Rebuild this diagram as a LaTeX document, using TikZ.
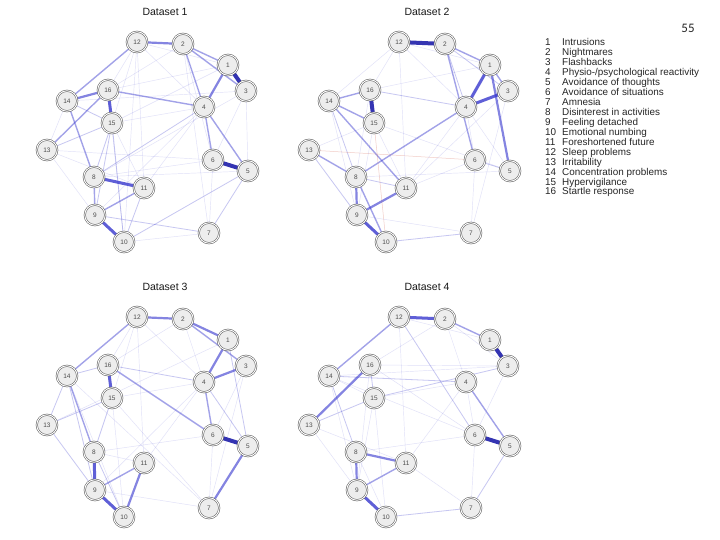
\documentclass[tikz,border=0pt]{standalone}
\usepackage{fontspec}
\setmainfont{Liberation Sans}
\newfontfamily\calib{Carlito}
\pgfdeclarelayer{bg}
\pgfsetlayers{bg,main}
\definecolor{eb}{RGB}{50,50,205}
\definecolor{er}{RGB}{210,90,70}
\tikzset{
 nd/.style={circle, minimum size=20.5pt, inner sep=0pt, draw=black!62, line width=0.55pt, double=white, double distance=0.9pt, fill=black!7, font=\fontsize{6.5}{7}\selectfont, text=black!70},
 ttl/.style={font=\fontsize{10.5}{12}\selectfont, text=black!90},
 lgn/.style={font=\fontsize{9.9}{10}\selectfont, text=black!85, inner sep=0pt},
 w1/.style={draw=eb, line width=0.45pt, opacity=0.15},
 w2/.style={draw=eb, line width=0.8pt, opacity=0.27},
 w3/.style={draw=eb, line width=1.4pt, opacity=0.45},
 w4/.style={draw=eb, line width=2.2pt, opacity=0.6},
 w5/.style={draw=eb, line width=3pt, opacity=0.78},
 w6/.style={draw=eb!85!black, line width=4pt, opacity=0.95},
 neg/.style={draw=er, line width=0.5pt, opacity=0.3},
}
\newcommand\panel[4]{%
 \begin{scope}[shift={(#2,#3)}]
 \node[ttl] (#1t) at (165,12) {#4};
 \foreach \n/\x/\y in {1/228/65, 2/183/44, 3/246/91, 4/204/107, 5/248/171, 6/213/160, 7/209/233, 8/94/177, 9/95/215, 10/124/242, 11/144/188, 12/137/42, 13/47/150, 14/67/101, 15/112/123, 16/108/90}
   \node[nd] (#1\n) at (\x,\y) {\n};
 \end{scope}}
\newcommand\edges[2]{\foreach \sa/\sb/\sw in {#2}{\edef\tmp{\noexpand\draw[\sw] (#1\sa) -- (#1\sb);}\tmp}}
\begin{document}
\begin{tikzpicture}[x=1pt,y=-1pt]
\useasboundingbox (0,0) rectangle (720,540);
\panel{a}{0}{0}{Dataset 1}
\panel{b}{262}{0}{Dataset 2}
\panel{c}{0}{275}{Dataset 3}
\panel{d}{262}{275}{Dataset 4}
\begin{pgfonlayer}{bg}
\fill[white] (0,0) rectangle (720,540);
\edges{a}{1/3/w6, 6/5/w6, 16/15/w5, 12/2/w4, 2/1/w3, 2/3/w3, 1/4/w4, 4/5/w3, 14/16/w4, 12/14/w3, 14/8/w3, 16/13/w3, 15/13/w2, 8/11/w5, 9/10/w5, 9/11/w3, 8/9/w3, 2/4/w3, 2/6/w1, 4/6/w3, 5/10/w2, 5/7/w2, 9/7/w2, 11/10/w2, 16/4/w3, 14/15/w2, 13/9/w1, 15/8/w2, 15/9/w2, 15/10/w2, 12/4/w1, 12/15/w1, 12/16/w1, 4/8/w2, 4/11/w1, 3/6/w1, 3/5/w1, 7/6/w1, 1/16/w1, 12/10/w1, 13/11/w1, 14/13/w1, 4/9/w1, 2/7/w1, 3/14/w1, 16/10/w1, 15/11/w1, 8/6/w1, 13/6/w1, 12/1/w1, 8/5/w1, 2/16/w1, 15/4/w1, 10/7/w1, 12/11/w1, 1/15/w1, 3/8/w1}
\edges{b}{12/2/w6, 16/15/w6, 1/4/w5, 4/3/w5, 1/5/w4, 2/1/w3, 1/3/w3, 2/3/w2, 14/16/w3, 14/15/w3, 14/11/w3, 14/8/w2, 8/9/w4, 9/10/w5, 9/11/w4, 8/10/w3, 8/11/w2, 13/8/w3, 13/9/w2, 4/8/w3, 2/6/w3, 6/5/w2, 10/7/w2, 16/4/w2, 12/14/w1, 12/11/w1, 13/15/w1, 2/4/w2, 4/5/w1, 4/6/w1, 3/7/w1, 12/1/w1, 6/7/w1, 15/11/w1, 16/1/w1, 15/9/w1, 8/5/w1, 9/7/w1, 11/6/w1, 12/16/w1, 14/9/w1, 3/11/w1, 11/4/w1, 16/8/w1, 12/4/w1, 15/5/w1, 13/6/neg, 15/10/neg}
\edges{c}{12/2/w4, 2/1/w4, 2/3/w3, 1/4/w4, 4/3/w4, 1/5/w2, 6/5/w6, 4/6/w3, 4/5/w2, 16/15/w5, 14/16/w2, 12/14/w3, 14/13/w2, 14/8/w3, 14/7/w1, 16/6/w3, 16/4/w2, 8/9/w5, 9/10/w5, 9/11/w3, 11/10/w4, 8/10/w2, 5/7/w4, 13/9/w2, 13/15/w2, 15/8/w2, 15/10/w1, 12/11/w1, 12/16/w1, 12/15/w1, 2/4/w1, 14/9/w2, 14/10/w1, 8/11/w1, 15/7/w1, 3/6/w1, 6/7/w1, 4/9/w1, 15/4/w1, 1/13/w1, 8/6/w1, 9/7/w1, 11/4/w1, 2/16/w1, 12/4/w1, 3/7/w1}
\edges{d}{12/2/w5, 2/1/w3, 1/3/w6, 6/5/w6, 4/5/w3, 13/16/w4, 12/14/w3, 14/4/w2, 16/15/w2, 15/3/w2, 15/4/w1, 8/11/w4, 8/9/w4, 9/11/w3, 9/10/w5, 10/7/w2, 5/7/w2, 14/8/w2, 12/6/w2, 13/9/w1, 13/15/w2, 14/15/w1, 14/3/w1, 16/3/w1, 2/4/w1, 16/9/w1, 15/9/w1, 12/11/w1, 16/6/w1, 4/11/w1, 2/3/w1, 12/1/w1, 6/7/w1, 8/10/w1, 13/11/w1, 11/7/w1, 15/10/w1, 3/6/w1, 4/6/w1, 14/6/w1, 8/6/w1, 14/9/w1, 2/16/w1}
\end{pgfonlayer}
\foreach \i/\txt in {1/Intrusions, 2/Nightmares, 3/Flashbacks, 4/{Physio-/psychological reactivity}, 5/Avoidance of thoughts, 6/Avoidance of situations, 7/Amnesia, 8/Disinterest in activities, 9/Feeling detached, 10/Emotional numbing, 11/Foreshortened future, 12/Sleep problems, 13/Irritability, 14/Concentration problems, 15/Hypervigilance, 16/Startle response}{
 \node[lgn,anchor=base west] (n\i) at (545,{46+(\i-1)*9.93}) {\i};
 \node[lgn,anchor=base west] (l\i) at (562,{46+(\i-1)*9.93}) {\txt};
}
\node[font=\calib\fontsize{13}{14}\selectfont, text=black!85] (pg) at (688,28) {55};
\end{tikzpicture}
\end{document}
